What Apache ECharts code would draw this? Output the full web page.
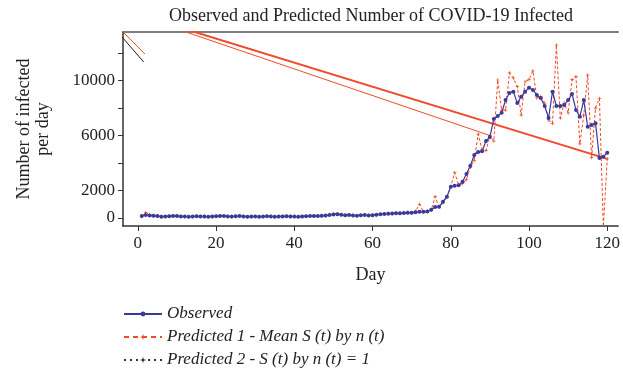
<!DOCTYPE html>
<html>
<head>
<meta charset="utf-8">
<script src="https://cdn.jsdelivr.net/npm/echarts@6/dist/echarts.min.js"></script>
<style>
  html, body { margin: 0; padding: 0; background: #fff; }
  #chart { width: 623px; height: 375px; }
</style>
</head>
<body>
<div id="chart"></div>
<script>
// observed daily infected, days 1..120
const observed = [
  150, 220, 180, 160, 140, 100, 120, 130, 150, 140,
  120, 110, 100, 110, 130, 120, 110, 100, 120, 130,
  150, 140, 120, 110, 130, 140, 120, 100, 110, 120,
  100, 110, 130, 120, 100, 110, 120, 130, 120, 110,
  100, 120, 130, 140, 150, 140, 160, 180, 220, 260,
  280, 230, 200, 220, 190, 170, 200, 220, 190, 210,
  240, 270, 300, 320, 330, 350, 340, 360, 390, 380,
  420, 460, 450, 470, 600, 800, 820, 1190, 1550, 2280,
  2350, 2380, 2640, 3200, 3800, 4580, 4800, 4850, 5600, 5900,
  7200, 7420, 7660, 8580, 9090, 9190, 8360, 8820, 9190, 9480,
  9310, 8950, 8730, 8150, 7270, 9190, 8150, 8150, 8220, 8580,
  9020, 7860, 7370, 8580, 6640, 6760, 6900, 4360, 4450, 4750
]
// predicted 1 (mean S(t) by n(t)), days 1..120
const predicted1 = [
  120, 400, 250, 180, 150, 120, 100, 140, 160, 150,
  130, 120, 90, 100, 140, 130, 120, 90, 110, 140,
  160, 150, 130, 100, 120, 150, 130, 90, 100, 130,
  110, 100, 140, 130, 90, 100, 130, 140, 130, 100,
  90, 110, 140, 150, 160, 130, 150, 170, 230, 300,
  320, 250, 180, 230, 200, 160, 190, 230, 200, 200,
  230, 280, 310, 340, 320, 360, 330, 350, 410, 370,
  500, 1000, 450, 500, 560, 1550, 800, 1100, 1500, 2300,
  3300, 2400, 2500, 2800, 3700, 4200, 6100, 5000, 4900, 6000,
  5600, 10040, 7850, 7850, 10550, 10180, 9550, 7490, 9930, 10060,
  10700, 8730, 8850, 8360, 7130, 6880, 12580, 7270, 8360, 7640,
  10060, 10280, 5400, 7500, 10400, 4400, 8000, 8700, -630, 4300
]
// stray straight segments seen in the figure [day, value]
const wrapLineA = [[0, 14800], [120, 4300]]
const wrapLineB = [[0, 14720], [90, 6000]]
const wrapLineC = [[-6, 14170], [1.8, 11930]]
const predicted2 = [[-6, 13805], [1.5, 11345]]

const xTicks = [0, 20, 40, 60, 80, 100, 120]
const yTicks = [0, 2000, 4000, 6000, 8000, 10000, 12000]
const yLabels = [0, 2000, 6000, 10000]

const names = ['Observed', 'Predicted 1 - Mean S (t) by n (t)', 'Predicted 2 - S (t) by n (t) = 1']
const blue = '#3a3a9c'
const red = '#ef4a2a'
const serif = 'Liberation Serif, DejaVu Serif, serif'
const plus = 'path://M4,0H6V4H10V6H6V10H4V6H0V4H4Z'

const pair = arr => arr.map((v, i) => [i + 1, v])

const chart = echarts.init(document.getElementById('chart'))
chart.setOption({
  animation: false,
  backgroundColor: '#fff',
  title: {
    text: 'Observed and Predicted Number of COVID-19 Infected',
    left: 366, top: 2, textAlign: 'center',
    textStyle: { fontFamily: serif, fontSize: 18, fontWeight: 'normal', color: '#222' }
  },
  grid: { left: 123, right: 0, top: 32, bottom: 149 },
  legend: {
    orient: 'vertical', left: 118, top: 300, height: 75,
    itemWidth: 38, itemHeight: 6, itemGap: 5,
    textStyle: { fontFamily: serif, fontSize: 17, fontStyle: 'italic', color: '#222', lineHeight: 18 },
    data: [
      { name: names[0] },
      { name: names[1], lineStyle: { type: [5, 4] } },
      { name: names[2], lineStyle: { type: [2, 4], color: '#333' }, itemStyle: { color: '#333' } }
    ]
  },
  xAxis: [{
    type: 'value', min: -3.8, max: 122.8,
    name: 'Day', nameLocation: 'middle', nameGap: 40,
    nameTextStyle: { fontFamily: serif, fontSize: 18, color: '#222' },
    axisLine: { show: true, onZero: false, lineStyle: { color: '#333', width: 1.5 } },
    axisTick: { show: true, customValues: xTicks, length: 5, lineStyle: { color: '#333' } },
    axisLabel: { customValues: xTicks, fontFamily: serif, fontSize: 17, color: '#222', margin: 9 },
    splitLine: { show: false }
  }, {
    type: 'value', min: -3.8, max: 122.8, position: 'top',
    axisLine: { show: true, onZero: false, lineStyle: { color: '#555', width: 1.5 } },
    axisTick: { show: false }, axisLabel: { show: false }, splitLine: { show: false }
  }],
  yAxis: {
    type: 'value', min: -580, max: 13530,
    name: 'Number of infected\nper day', nameLocation: 'middle', nameGap: 70,
    nameTextStyle: { fontFamily: serif, fontSize: 18, color: '#222', lineHeight: 19 },
    axisLine: { show: true, onZero: false, lineStyle: { color: '#333', width: 1.5 } },
    axisTick: { show: true, customValues: yTicks, length: 5, lineStyle: { color: '#333' } },
    axisLabel: {
      customValues: yLabels, fontFamily: serif, fontSize: 17, color: '#222', margin: 8,
      formatter: v => String(v)
    },
    splitLine: { show: false }
  },
  series: [
    {
      type: 'line', data: wrapLineA, symbol: 'none', silent: true,
      lineStyle: { color: red, width: 2 }
    },
    {
      type: 'line', data: wrapLineB, symbol: 'none', silent: true,
      lineStyle: { color: red, width: 1 }
    },
    {
      type: 'line', data: wrapLineC, symbol: 'none', silent: true,
      lineStyle: { color: red, width: 1 }
    },
    {
      name: names[2], type: 'line', data: predicted2,
      symbol: plus, symbolSize: 4, showSymbol: false,
      itemStyle: { color: '#333' },
      lineStyle: { color: '#222', width: 1 }
    },
    {
      name: names[1], type: 'line', data: pair(predicted1),
      symbol: plus, symbolSize: 3.5,
      itemStyle: { color: red },
      lineStyle: { color: red, width: 1, type: [3, 2] }
    },
    {
      name: names[0], type: 'line', data: pair(observed),
      symbol: 'circle', symbolSize: 4,
      itemStyle: { color: blue },
      lineStyle: { color: blue, width: 1.2 }
    }
  ]
})
</script>
</body>
</html>
